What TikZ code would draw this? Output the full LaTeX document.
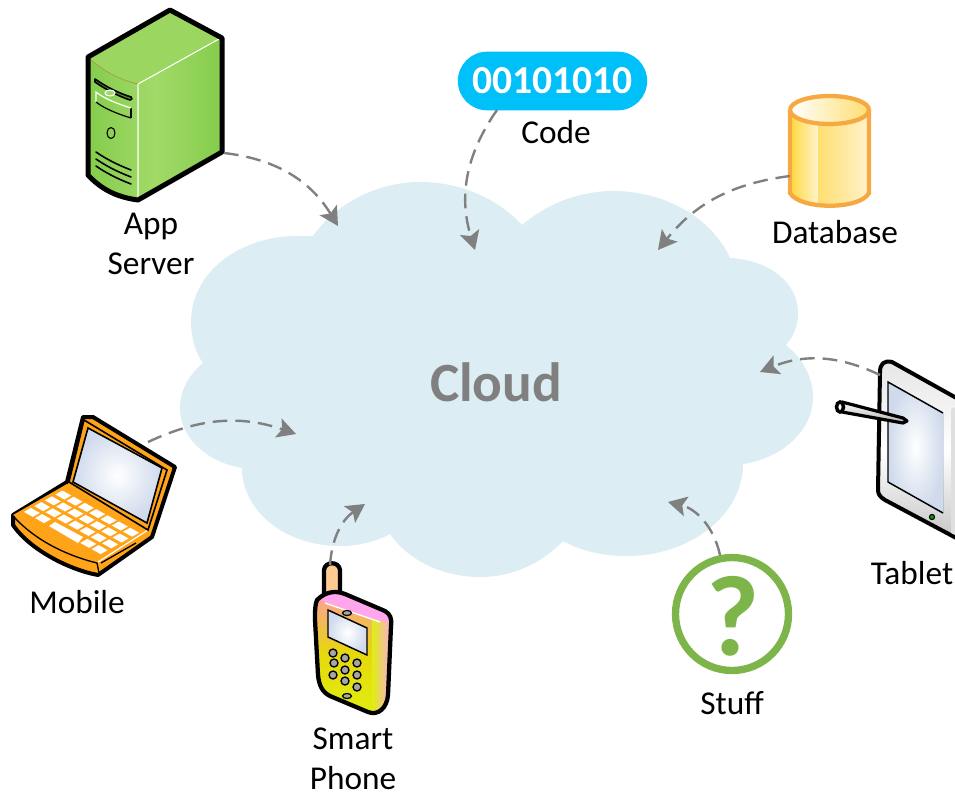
\documentclass[tikz,border=0pt]{standalone}
\usepackage{fontspec}
\setmainfont{Carlito}
\usetikzlibrary{arrows.meta}
\definecolor{cloudblue}{HTML}{DCEDF3}
\definecolor{flowgray}{HTML}{808080}
\definecolor{badgeblue}{HTML}{00C0FA}
\definecolor{servergreen}{HTML}{84CC4C}
\definecolor{serverlight}{HTML}{A2DA68}
\definecolor{stuffgreen}{HTML}{7DB54A}
\definecolor{laptoporange}{HTML}{FFA318}
\definecolor{dbline}{HTML}{F6A843}
\definecolor{dbgold}{HTML}{FFD83C}
\definecolor{dbmid}{HTML}{FFDE70}
\definecolor{dbpale}{HTML}{FFF3CC}
\definecolor{phonepink}{HTML}{FFA6EC}
\definecolor{phoneyellow}{HTML}{E0EE10}
\definecolor{glassblue}{HTML}{CFDAEC}
\tikzset{
% Two node styles for the picture: labels and the big title
icon label/.style={align=center,font=\fontsize{25}{30}\selectfont,inner sep=0},
cloud title/.style={font=\fontsize{41.5}{48}\selectfont\bfseries,text=flowgray,inner sep=0},
flow line/.style={draw=flowgray,line width=1.8pt,dash pattern=on 11pt off 6pt,-{Stealth[length=14pt,width=15pt,inset=3pt]}},
outline/.style={draw=black,line join=round,line cap=round}
}
\begin{document}
\begin{tikzpicture}[x=0.75pt,y=-0.75pt]
\useasboundingbox (0,0) rectangle (955,793);
% The cloud
\fill[cloudblue] (203,363) .. controls (195,352) and (191,337) .. (191,322) .. controls (191,272) and (240,236) .. (297,236) -- (313,236)
.. controls (335,205) and (375,182) .. (420,182) .. controls (460,182) and (497,198) .. (522,225)
.. controls (545,205) and (578,191) .. (613,191) .. controls (665,191) and (712,218) .. (730,258)
.. controls (770,260) and (798,283) .. (798,313) .. controls (798,325) and (794,336) .. (786,345)
.. controls (802,358) and (813,377) .. (813,397) .. controls (813,430) and (783,458) .. (743,464)
.. controls (743,515) and (690,556) .. (627,556) .. controls (603,556) and (581,551) .. (563,541)
.. controls (542,563) and (513,577) .. (480,577) .. controls (442,577) and (408,560) .. (390,534)
.. controls (375,542) and (358,546) .. (340,546) .. controls (285,546) and (242,511) .. (242,468)
.. controls (207,462) and (180,438) .. (180,408) .. controls (180,390) and (189,375) .. (203,363) -- cycle;
\node(cloud)[cloud title] at (496,382){Cloud};
% App server
\fill[left color=servergreen,right color=servergreen,middle color=serverlight] (88,57)--(170,10)--(222,38)--(222,152)--(138,200) .. controls (115,197) and (100,188) .. (88,175) -- cycle;
\fill[serverlight!75!servergreen] (90,59)--(170,12)--(219,39)--(138,84) .. controls (120,80) and (105,72) .. (90,59) -- cycle;
\draw[white,line width=0.8pt] (219,39)--(138,84)--(138,198);
\draw[brown!60!servergreen,line width=0.6pt] (90,59) .. controls (105,72) and (120,80) .. (138,84);
\draw[outline,line width=3.75pt] (88,57)--(170,10)--(222,38)--(222,152)--(138,200) .. controls (115,197) and (100,188) .. (88,175) -- cycle;
\draw[outline,line width=1.2pt,fill=servergreen!70!black] (95,79) .. controls (105,86) and (118,93) .. (131,97) .. controls (133,98) and (132,100) .. (130,100) .. controls (118,96) and (105,89) .. (95,82) -- cycle;
\draw[white,line width=0.8pt,fill=serverlight] (110,93) ellipse (5 and 3);
\draw[black,line width=1.2pt] (131,108)--(131,118);
\draw[white,line width=0.9pt] (96,102)--(96,92) .. controls (105,99) and (118,104) .. (131,108);
\draw[black,line width=0.9pt] (96,102) .. controls (105,109) and (118,114) .. (131,118);
\draw[black,line width=0.8pt] (111,133) ellipse (4 and 5.5);
\foreach \vy in {0,7,14}
\draw[outline,line width=1.2pt] (96,152+\vy) .. controls (106,159+\vy) and (118,165+\vy) .. (131,170+\vy);
\coordinate(server out) at (224,153);
\coordinate(server in) at (338,226);
\node(app)[icon label] at (151,244){App\\Server};
% Code badge
\node(badge)[fill=badgeblue,rounded corners=22pt,minimum width=142pt,minimum height=44pt,inner sep=0,text=white,font=\fontsize{29.7}{34}\selectfont\bfseries] at (552.5,81){00101010};
\node(code)[icon label] at (556,132){Code};
\coordinate(code out) at (497,110);
\coordinate(code in) at (475,250);
% Database
\fill[left color=dbgold,right color=dbpale] (790,110)--(818,110)--(818,205) .. controls (805,203) and (795,198) .. (790,193) -- cycle;
\fill[left color=dbmid,right color=dbpale] (818,110)--(869,110)--(869,193) .. controls (860,203) and (835,206) .. (818,205) -- cycle;
\fill[left color=white,right color=dbmid] (790,110) arc[start angle=180,end angle=-180,x radius=39.5,y radius=14];
\draw[dbline,line width=3.2pt,line join=round] (790,110) arc[start angle=180,end angle=-180,x radius=39.5,y radius=14];
\draw[dbline,line width=3.2pt] (790,110)--(790,193) .. controls (800,210) and (860,210) .. (869,193)--(869,110);
\node(database)[icon label] at (835,232){Database};
\coordinate(database out) at (790,176);
\coordinate(database in) at (658,250);
% Tablet
\draw[outline,line width=3pt,top color=gray!20,bottom color=gray!45,middle color=white] (880,372) .. controls (880,364) and (884,360) .. (892,362) -- (960,400) -- (960,540) -- (885,500) .. controls (880,497) and (878,494) .. (878,490) -- cycle;
\fill[gray!25] (951,409)--(958,406)--(958,536)--(951,533) -- cycle;
\fill[inner color=white,outer color=glassblue] (888,382)--(943,413)--(943,513)--(888,482) -- cycle;
\draw[black,line width=1.1pt] (943,513)--(888,482)--(888,382)--(943,413);
\draw[black,line width=0.8pt,fill=green!60!black] (932,517) circle (2.6);
\draw[outline,line width=2.4pt,top color=white,bottom color=gray!60] (842,402)--(903,418)--(907,421)--(903,423)--(842,412) -- cycle;
\draw[black,line width=2.6pt,fill=white] (840,407) ellipse (3.5 and 5);
\node(tablet)[icon label] at (912,573){Tablet};
\coordinate(tablet out) at (880,375);
\coordinate(tablet in) at (760,372);
% Stuff
\draw[stuffgreen,line width=5.5pt,fill=white] (732,614) circle (56.5);
\node(stuff mark)[text=stuffgreen,inner sep=0,font=\fontsize{86}{90}\selectfont\bfseries] at (733,616){?};
\node(stuff)[icon label] at (732,703){Stuff};
\coordinate(stuff out) at (720,555);
\coordinate(stuff in) at (668,502);
% Smart phone
\draw[outline,line width=3.2pt,left color=orange!40,right color=orange!40,middle color=phonepink!60!yellow] (324,595)--(324,570) .. controls (325,561) and (339,561) .. (340,570)--(340,595) -- cycle;
\def\phonebody{(317,600) .. controls (325,592) and (335,590) .. (345,594) -- (385,611) .. controls (390,614) and (392,618) .. (391,626) -- (388,695) .. controls (387,708) and (378,716) .. (368,712) -- (330,696) .. controls (322,692) and (319,685) .. (318,675) -- (315,620) .. controls (315,610) and (315,605) .. (317,600) -- cycle}
\fill[shading angle=-30,top color=phonepink!70!orange,bottom color=phoneyellow,middle color=phoneyellow!80!orange] \phonebody;
\begin{scope}
\clip \phonebody;
\fill[left color=phoneyellow,right color=phonepink] (372,600) rectangle (393,720);
\end{scope}
\fill[phonepink] (320,600) .. controls (328,594) and (336,592) .. (345,596) -- (385,613) .. controls (388,616) and (389,620) .. (388,622) .. controls (370,620) and (345,608) .. (320,600) -- cycle;
\draw[white,line width=1pt] (325,603)--(380,622);
\draw[outline,line width=3.2pt] \phonebody;
\draw[black,line width=1.1pt,inner color=white,outer color=glassblue] (328,610)--(367,628)--(367,655)--(328,637) -- cycle;
\foreach \px/\py in {333/653,345/658,357/663,334/663,345/670,357/675,333/675,345/681,357/687}
\draw[black,line width=1pt,fill=gray!70] (\px,\py) circle (4);
\draw[black,line width=0.9pt,fill=gray!70] (347,613) ellipse (4.5 and 2.5);
\draw[black,line width=0.9pt,fill=gray!70] (347,696) ellipse (4.5 and 2.5);
\node(phone)[icon label] at (353,759){Smart\\Phone};
\coordinate(phone out) at (330,565);
\coordinate(phone in) at (365,504);
% Mobile laptop
\draw[outline,line width=3pt,fill=laptoporange] (83,417)--(93,417)--(175,467)--(152,537)--(98,575) .. controls (70,570) and (30,550) .. (13,525)--(13,515)--(67,482) -- cycle;
\fill[laptoporange] (13,515)--(67,484)--(148,532)--(97,563) -- cycle;
\draw[white,line width=0.9pt] (72,483)--(148,530)--(98,562);
\draw[black,line width=1pt] (13,516) .. controls (35,540) and (65,555) .. (97,563)--(99,573);
\draw[black,line width=1pt] (101,563)--(136,543);
\draw[black,line width=1.2pt,fill=laptoporange] (84,420)--(167,470)--(148,530)--(69,482) -- cycle;
\draw[black,line width=1.2pt,inner color=white,outer color=glassblue] (88,428)--(162,468)--(147,523)--(73,482) -- cycle;
\foreach \ki in {0,...,6}
\foreach \kj in {0,1,2}
\fill[white] ({63.3+\ki*11.3-\kj*10.5-1},{495+\ki*6.2+\kj*5.8-4.5})--++(9,5)--++(-7,4)--++(-9,-5) -- cycle;
\foreach \ki in {0,1,5,6}
\fill[white] ({63.3+\ki*11.3-31.5-1},{495+\ki*6.2+17.4-4.5})--++(9,5)--++(-7,4)--++(-9,-5) -- cycle;
\fill[white] (55,522)--(83,537)--(78,543)--(49,526) -- cycle;
\node(mobile)[icon label] at (77,602){Mobile};
\coordinate(mobile out) at (148,442);
\coordinate(mobile in) at (296,434);
% Flows into the cloud
\draw[flow line] (server out) to[bend left=26] (server in);
\draw[flow line] (code out) to[bend right=26] (code in);
\draw[flow line] (database out) to[bend right=22] (database in);
\draw[flow line] (tablet out) to[bend right=24] (tablet in);
\draw[flow line] (stuff out) to[bend right=32] (stuff in);
\draw[flow line] (phone out) to[bend left=26] (phone in);
\draw[flow line] (mobile out) to[bend left=22] (mobile in);
\end{tikzpicture}
\end{document}
